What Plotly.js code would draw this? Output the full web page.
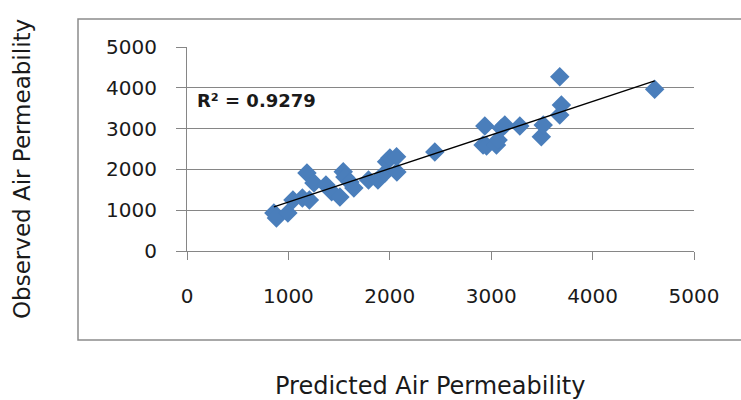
<!DOCTYPE html>
<html>
<head>
<meta charset="utf-8">
<script src="https://cdn.plot.ly/plotly-3.0.1.min.js"></script>
<style>html,body{margin:0;padding:0;background:#fff;}#chart{width:741px;height:400px;}</style>
</head>
<body>
<div id="chart"></div>
<script>
// Data
const predicted = [857, 882, 995, 1045, 1138, 1183, 1207, 1252, 1370, 1426, 1508, 1541, 1557, 1606, 1646, 1790, 1883, 1952, 1968, 2001, 2067, 2070, 2444, 2920, 2937, 2954, 3052, 3068, 3101, 3134, 3282, 3494, 3513, 3676, 3692, 3676, 4612];
const observed  = [931, 809, 931, 1250, 1299, 1912, 1250, 1667, 1618, 1454, 1324, 1944, 1814, 1691, 1544, 1740, 1740, 1912, 2189, 2279, 2311, 1936, 2426, 2598, 3064, 2573, 2598, 2720, 3007, 3088, 3064, 2802, 3088, 4272, 3578, 3333, 3963];
const tickVals = [0, 1000, 2000, 3000, 4000, 5000];
const xTitle = "Predicted Air Permeability";
const yTitle = "Observed Air Permeability";
const r2Label = "R² = 0.9279";

// Least-squares linear trendline computed from the data
const n = predicted.length;
const mx = predicted.reduce((a, b) => a + b, 0) / n;
const my = observed.reduce((a, b) => a + b, 0) / n;
let sxy = 0, sxx = 0;
for (let i = 0; i < n; i++) { sxy += (predicted[i] - mx) * (observed[i] - my); sxx += (predicted[i] - mx) ** 2; }
const slope = sxy / sxx, intercept = my - slope * mx;
const xMin = Math.min(...predicted), xMax = Math.max(...predicted);
const trendX = [xMin, xMax];
const trendY = trendX.map(v => intercept + slope * v);

const tickFont = {family: "DejaVu Sans", size: 20, color: "#1a1a1a"};

const data = [
  {x: predicted, y: observed, type: "scatter", mode: "markers",
   marker: {symbol: "diamond", size: 15, color: "#4a7ebb", line: {width: 0}}, showlegend: false, hoverinfo: "x+y"},
  {x: trendX, y: trendY, type: "scatter", mode: "lines",
   line: {color: "#000000", width: 1.3}, showlegend: false, hoverinfo: "skip"}
];

const layout = {
  width: 741, height: 400,
  margin: {l: 187, r: 47, t: 47, b: 149},
  paper_bgcolor: "#ffffff", plot_bgcolor: "#ffffff",
  showlegend: false,
  xaxis: {range: [0, 5000], tickvals: tickVals, ticks: "outside", ticklen: 8, tickcolor: "#868686", tickwidth: 1,
          showgrid: false, zeroline: false, showline: true, linecolor: "#868686", linewidth: 1,
          tickfont: tickFont, ticklabelstandoff: 19, fixedrange: true},
  yaxis: {range: [0, 5000], tickvals: tickVals, ticks: "outside", ticklen: 10, tickcolor: "#868686", tickwidth: 1,
          showgrid: true, gridcolor: "#868686", gridwidth: 1, zeroline: false, showline: true, linecolor: "#868686", linewidth: 1,
          tickfont: tickFont, ticklabelstandoff: 15, fixedrange: true},
  shapes: [
    {type: "rect", xref: "paper", yref: "paper", x0: (78 - 187) / 507, x1: (746 - 187) / 507,
     y0: (251 - 340) / 204, y1: (251 - 19) / 204, line: {color: "#8c8c8c", width: 1.5}, fillcolor: "rgba(0,0,0,0)", layer: "below"}
  ],
  annotations: [
    {text: r2Label, xref: "paper", yref: "paper", x: (195 - 187) / 507, y: (251 - 101) / 204, xanchor: "left", yanchor: "middle",
     showarrow: false, font: {family: "DejaVu Sans", size: 18, color: "#1a1a1a", weight: "bold"}},
    {text: xTitle, xref: "paper", yref: "paper", x: (430 - 187) / 507, y: (251 - 386) / 204, xanchor: "center", yanchor: "middle",
     showarrow: false, font: {family: "DejaVu Sans", size: 24, color: "#1a1a1a"}},
    {text: yTitle, xref: "paper", yref: "paper", x: (22 - 187) / 507, y: (251 - 169) / 204, xanchor: "center", yanchor: "middle",
     textangle: -90, showarrow: false, font: {family: "DejaVu Sans", size: 23, color: "#1a1a1a"}}
  ]
};

Plotly.newPlot("chart", data, layout, {staticPlot: true, displayModeBar: false});
</script>
</body>
</html>
